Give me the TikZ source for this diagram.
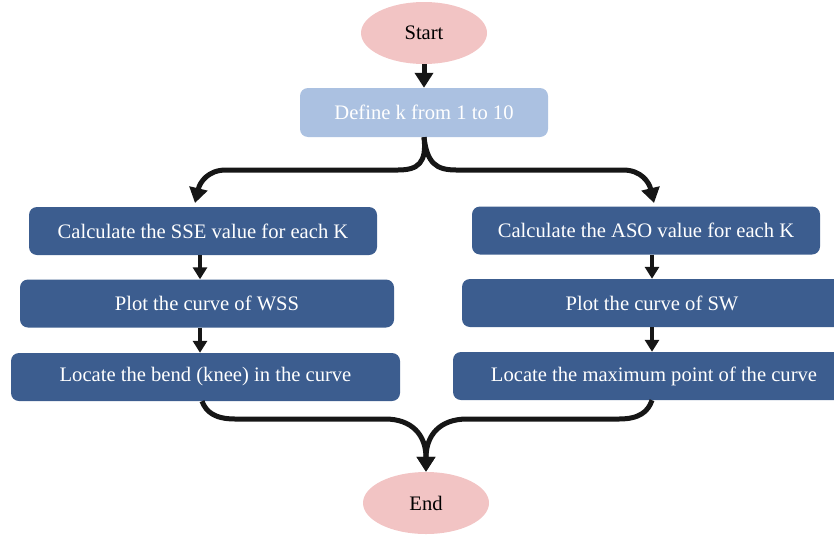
\documentclass[tikz,border=0pt]{standalone}
\usepackage{fontspec}
\setmainfont{Liberation Serif}
\usetikzlibrary{arrows.meta,shapes.geometric}
\definecolor{darkbox}{HTML}{3C5D8F}
\definecolor{lightbox}{HTML}{ABC1E1}
\definecolor{pinkell}{HTML}{F2C4C4}
\definecolor{arrowcol}{HTML}{161616}
\tikzset{
  x=1pt,y=-1pt,
  txt/.style={font=\fontsize{20.6}{23}\selectfont},
  term/.style={ellipse,fill=pinkell,draw=none,minimum width=126pt,minimum height=62pt,inner sep=0pt,txt,text=black},
  defbox/.style={rectangle,rounded corners=8pt,fill=lightbox,draw=none,minimum width=248pt,minimum height=49pt,inner sep=0pt,txt,text=white},
  procbox/.style={rectangle,rounded corners=8pt,fill=darkbox,draw=none,minimum height=48pt,inner sep=0pt,txt,text=white},
  bigconn/.style={draw=arrowcol,line width=5pt,-{Triangle[length=15pt,width=18pt]}},
  smallconn/.style={draw=arrowcol,line width=3.5pt,-{Triangle[length=12pt,width=14pt]}}
}
\begin{document}
\begin{tikzpicture}
\useasboundingbox (0,0) rectangle (834,538);
\clip (0,0) rectangle (834,538);
\node[term] (start) at (424,33) {Start};
\node[defbox] (def) at (424,112.5) {Define k from 1 to 10};
\node[procbox,minimum width=348pt] (l1) at (203,231) {Calculate the SSE value for each K};
\node[procbox,minimum width=374pt] (l2) at (207,303.5) {Plot the curve of WSS};
\node[procbox,minimum width=389pt] (l3) at (205.5,377) {Locate the bend (knee) in the curve};
\node[procbox,minimum width=348pt] (r1) at (646,230.5) {Calculate the ASO value for each K};
\node[procbox,minimum width=380pt] (r2) at (652,303) {Plot the curve of SW};
\node[procbox,minimum width=402pt] (r3) at (654,376) {Locate the maximum point of the curve};
\node[term] (end) at (426,503) {End};

\coordinate (tl) at (195,203);
\coordinate (tr) at (654,203);
\draw[bigconn] (start.south -| def.north) -- (def.north);
\draw[bigconn] (def.south) .. controls (427,163) and (418,170) .. (398,170) -- (226,170) .. controls (208,170) and (200,182) .. (tl);
\draw[bigconn] (def.south) .. controls (427,163) and (436,170) .. (456,170) -- (623,170) .. controls (641,170) and (649,182) .. (tr);
\draw[smallconn] (l1.south -| 200,0) -- (l2.north -| 200,0);
\draw[smallconn] (l2.south -| 200,0) -- (l3.north -| 200,0);
\draw[smallconn] (r1.south -| 652,0) -- (r2.north -| 652,0);
\draw[smallconn] (r2.south -| 652,0) -- (r3.north -| 652,0);
\draw[bigconn] (l3.south -| 202,0) .. controls (206,412) and (215,419) .. (235,419) -- (385,419) .. controls (412,419) and (426,435) .. (end.north);
\draw[bigconn] (r3.south -| 652,0) .. controls (648,412) and (639,419) .. (619,419) -- (467,419) .. controls (440,419) and (426,435) .. (end.north);
\end{tikzpicture}
\end{document}
